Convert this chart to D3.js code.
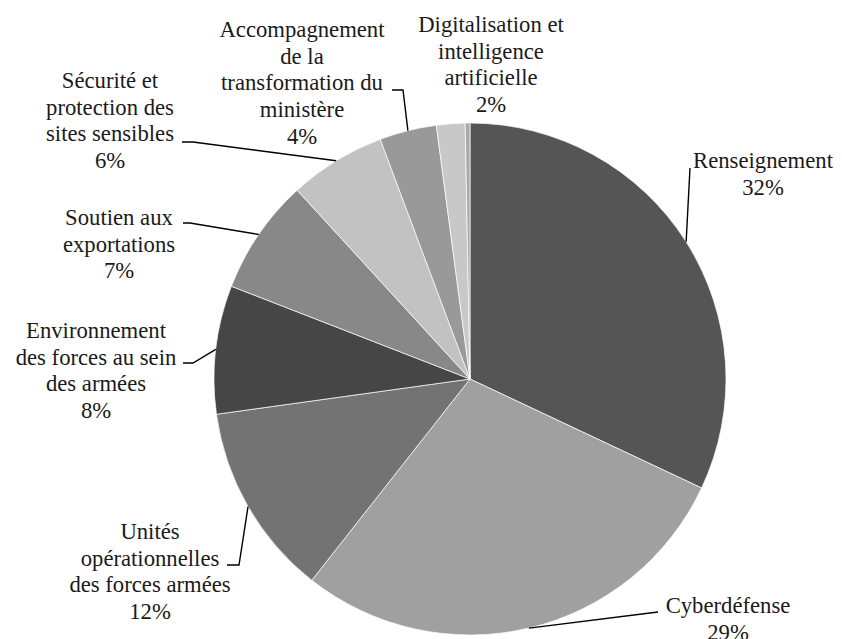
<!DOCTYPE html>
<html>
<head>
<meta charset="utf-8">
<script src="https://cdn.jsdelivr.net/npm/d3@7/dist/d3.min.js"></script>
<style>
  html, body { margin: 0; padding: 0; background: #fff; }
  svg { display: block; }
</style>
</head>
<body>
<svg id="chart" width="842" height="639"></svg>
<script>
// ---- Data ----
const categories = [
  "Renseignement",
  "Cyberdéfense",
  "Unités opérationnelles des forces armées",
  "Environnement des forces au sein des armées",
  "Soutien aux exportations",
  "Sécurité et protection des sites sensibles",
  "Accompagnement de la transformation du ministère",
  "Digitalisation et intelligence artificielle",
  "Autres"
];
const values = [32.0, 28.6, 12.2, 8.1, 7.3, 6.1, 3.6, 1.8, 0.3];
const percentLabels = ["32%", "29%", "12%", "8%", "7%", "6%", "4%", "2%", ""];
const labelLines = [
  ["Renseignement"],
  ["Cyberdéfense"],
  ["Unités", "opérationnelles", "des forces armées"],
  ["Environnement", "des forces au sein", "des armées"],
  ["Soutien aux", "exportations"],
  ["Sécurité et", "protection des", "sites sensibles"],
  ["Accompagnement", "de la", "transformation du", "ministère"],
  ["Digitalisation et", "intelligence", "artificielle"],
  []
];

// ---- Styles / layout (not data) ----
const colors = ["#555555", "#a0a0a0", "#737373", "#464646", "#888888", "#c2c2c2", "#999999", "#c8c8c8", "#aaaaaa"];
const cx = 470, cy = 379, radius = 256;
const lineHeight = 26.7;
const labelLayout = [
  { x: 763, y: 168, leader: [[690, 168]] },
  { x: 728, y: 613, leader: [[658, 612]] },
  { x: 150, y: 539, leader: [[239, 565], [227, 565]] },
  { x: 96,  y: 338, leader: [[193, 363], [183, 363]] },
  { x: 119, y: 225, leader: [[190, 223], [183, 223]] },
  { x: 110, y: 88,  leader: [[193, 142], [182, 142]] },
  { x: 302, y: 37,  leader: [[403, 90], [392, 90]] },
  { x: 491, y: 32,  leader: [] },
  null
];

// pick an installed serif font
const cnv = document.createElement("canvas").getContext("2d");
function width(font, s) { cnv.font = font; return cnv.measureText(s).width; }
const probe = "Renseignement Accompagnement 0123";
const candidates = ["Liberation Serif", "DejaVu Serif", "Noto Serif", "Tinos", "Times New Roman", "Times"];
let fontName = "serif";
for (const f of candidates) {
  const a = width(`22px "${f}", monospace`, probe);
  const b = width(`22px monospace`, probe);
  const c = width(`22px "${f}", sans-serif`, probe);
  const d = width(`22px sans-serif`, probe);
  if (Math.abs(a - b) > 0.5 && Math.abs(c - d) > 0.5) { fontName = f; break; }
}
const fontFamily = `"${fontName}", serif`;
// size so that "Renseignement" matches the reference width (~140px)
const w22 = width(`22px ${fontFamily}`, "Renseignement");
const fontSize = Math.max(16, Math.min(24, 22 * 140 / w22));

const svg = d3.select("#chart");
const g = svg.append("g").attr("transform", `translate(${cx},${cy})`);

const pie = d3.pie().sort(null).value(d => d.value);
const arc = d3.arc().innerRadius(0).outerRadius(radius);

const data = categories.map((c, i) => ({ name: c, value: values[i], i }));
const arcs = pie(data);

g.selectAll("path.slice")
  .data(arcs)
  .join("path")
  .attr("class", "slice")
  .attr("d", arc)
  .attr("fill", d => colors[d.data.i])
  .attr("stroke", "#ffffff")
  .attr("stroke-width", 0.7);

const line = d3.line();
arcs.forEach(d => {
  const lay = labelLayout[d.data.i];
  if (!lay || lay.leader.length === 0) return;
  const mid = (d.startAngle + d.endAngle) / 2;
  const start = [cx + radius * Math.sin(mid), cy - radius * Math.cos(mid)];
  svg.append("path")
    .attr("d", line([start, ...lay.leader]))
    .attr("fill", "none")
    .attr("stroke", "#000")
    .attr("stroke-width", 1.4);
});

arcs.forEach(d => {
  const lay = labelLayout[d.data.i];
  if (!lay) return;
  const lines = labelLines[d.data.i].concat([percentLabels[d.data.i]]);
  const t = svg.append("text")
    .attr("text-anchor", "middle")
    .attr("font-family", fontFamily)
    .attr("font-size", fontSize)
    .attr("fill", "#1a1a1a");
  lines.forEach((s, k) => {
    t.append("tspan")
      .attr("x", lay.x)
      .attr("y", lay.y + k * lineHeight)
      .text(s);
  });
});
</script>
</body>
</html>
